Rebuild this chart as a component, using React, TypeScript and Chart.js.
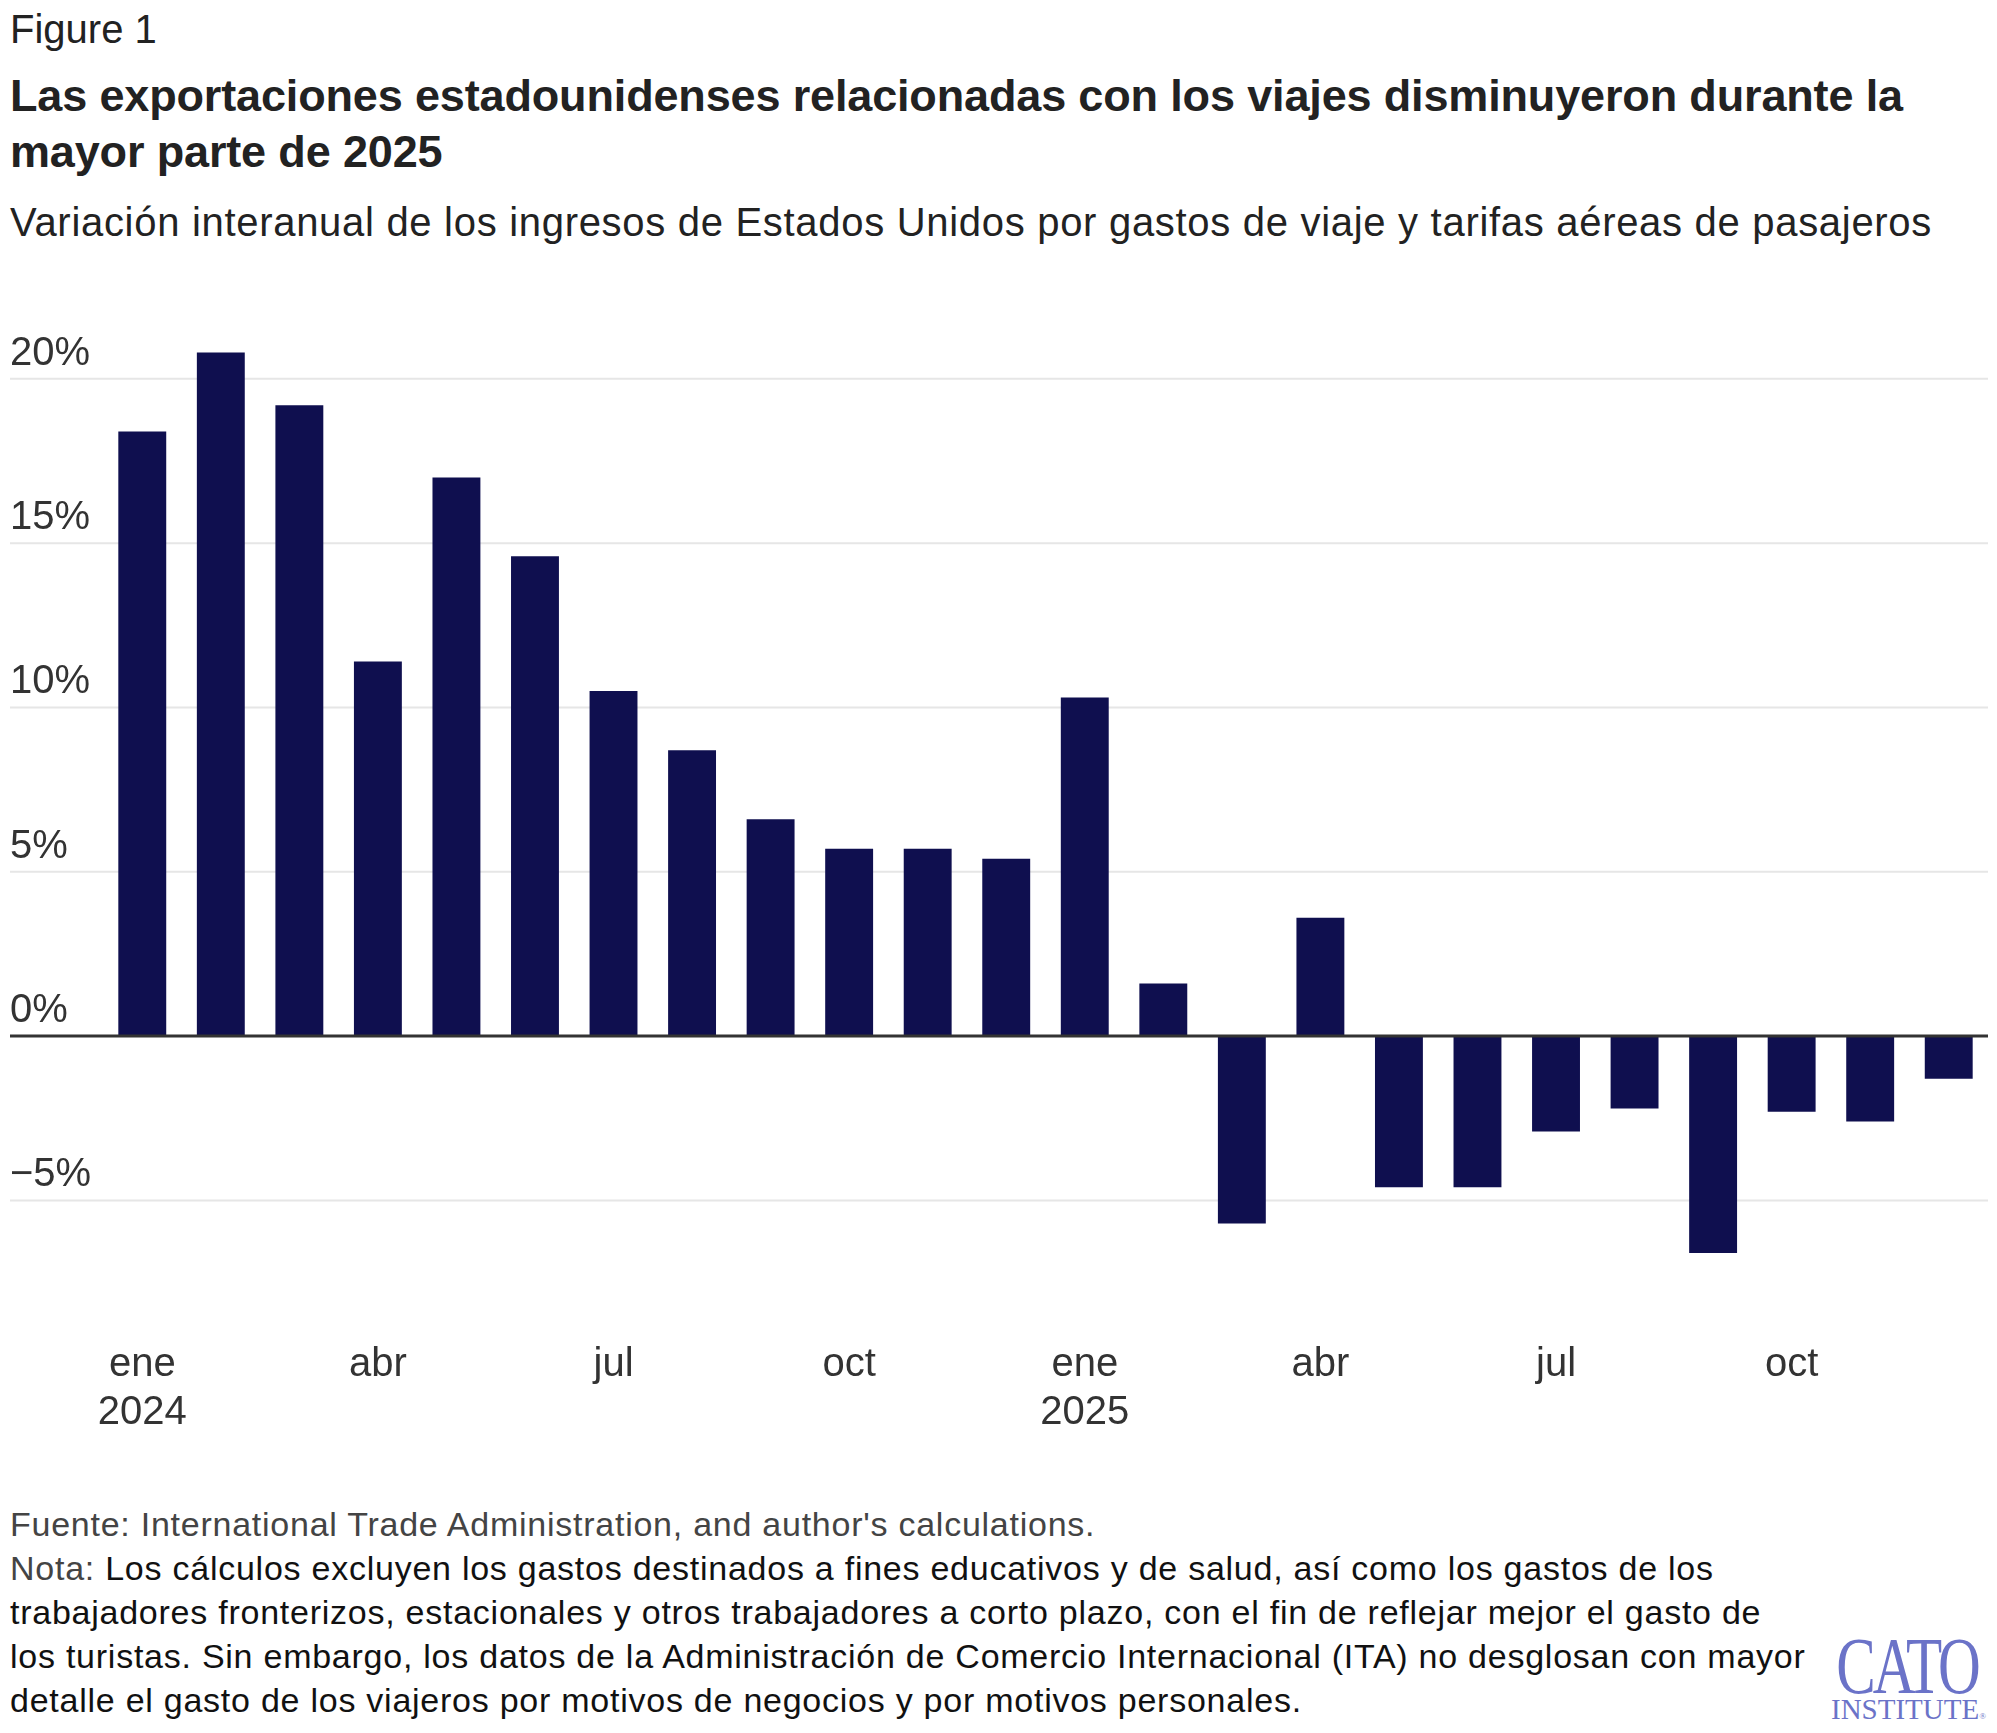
import { useEffect, useRef } from "react"
import { Chart, registerables } from "chart.js"

Chart.register(...registerables)

// months shown on the category axis
const months = ["ene", "feb", "mar", "abr", "may", "jun", "jul", "ago", "sep", "oct", "nov", "dic"]
const years = ["2024", "2025"]
const categories = years.flatMap((y) => months.map((m) => `${m} ${y}`))

// year-over-year change, %
const values2024 = [18.4, 20.8, 19.2, 11.4, 17.0, 14.6, 10.5, 8.7, 6.6, 5.7, 5.7, 5.4]
const values2025 = [10.3, 1.6, -5.7, 3.6, -4.6, -4.6, -2.9, -2.2, -6.6, -2.3, -2.6, -1.3]

const yTicks = [-5, 0, 5, 10, 15, 20]

const FONT = '"Liberation Sans", Arial, sans-serif'
const SERIF = '"Liberation Serif", "DejaVu Serif", serif'
const BAR = "#0f0f4f"

// gridlines + labels that run out to the left edge, like the original
const leftGrid = {
  id: "leftGrid",
  beforeDatasetsDraw(chart: any) {
    const { ctx, chartArea, scales } = chart
    const y = scales.y
    ctx.save()
    yTicks.forEach((v) => {
      const py = y.getPixelForValue(v)
      if (v !== 0) {
        ctx.strokeStyle = "#e6e6e6"
        ctx.lineWidth = 2
        ctx.beginPath()
        ctx.moveTo(10, py)
        ctx.lineTo(chartArea.right, py)
        ctx.stroke()
      }
      ctx.fillStyle = "#333"
      ctx.font = `40px ${FONT}`
      ctx.textAlign = "left"
      ctx.textBaseline = "alphabetic"
      const label = (v < 0 ? "\u2212" + Math.abs(v) : String(v)) + "%"
      ctx.fillText(label, 10, py - 14)
    })
    ctx.restore()
  },
  afterDatasetsDraw(chart: any) {
    const { ctx, chartArea, scales } = chart
    const py = scales.y.getPixelForValue(0)
    ctx.save()
    ctx.strokeStyle = "#333"
    ctx.lineWidth = 3
    ctx.beginPath()
    ctx.moveTo(10, py)
    ctx.lineTo(chartArea.right, py)
    ctx.stroke()
    ctx.restore()
  },
}

function BarChart() {
  const canvasRef = useRef<HTMLCanvasElement>(null)

  useEffect(() => {
    if (!canvasRef.current) return
    const chart = new Chart(canvasRef.current, {
      type: "bar",
      data: {
        labels: categories,
        datasets: [
          {
            data: [...values2024, ...values2025],
            backgroundColor: BAR,
            borderWidth: 0,
            barPercentage: 0.61,
            categoryPercentage: 1,
          },
        ],
      },
      options: {
        animation: false,
        responsive: true,
        maintainAspectRatio: false,
        layout: { padding: { left: 103, right: 9, top: 46, bottom: 15 } },
        plugins: { legend: { display: false }, tooltip: { enabled: false } },
        scales: {
          x: {
            grid: { display: false, drawTicks: false },
            border: { display: false },
            ticks: {
              autoSkip: false,
              maxRotation: 0,
              padding: 42,
              color: "#333",
              font: { family: FONT, size: 40, lineHeight: 1.2 },
              callback: (_v: any, i: number) => {
                if (i % 3 !== 0) return ""
                const m = months[i % 12]
                return m === "ene" ? [m, years[Math.floor(i / 12)]] : m
              },
            },
          },
          y: {
            display: false,
            min: -8,
            max: 21,
          },
        },
      },
      plugins: [leftGrid],
    })
    return () => chart.destroy()
  }, [])

  return (
    <div style={{ position: "absolute", left: 0, top: 300, width: 1997, height: 1194 }}>
      <canvas ref={canvasRef} />
    </div>
  )
}

export default function App() {
  const abs = (top: number, extra: React.CSSProperties = {}): React.CSSProperties => ({
    position: "absolute",
    left: 10,
    top,
    margin: 0,
    fontFamily: FONT,
    color: "#222",
    whiteSpace: "nowrap",
    ...extra,
  })

  return (
    <div style={{ position: "absolute", left: 0, top: 0, width: 1997, height: 1733, background: "#fff", overflow: "hidden" }}>
      <div style={abs(9, { fontSize: 40, lineHeight: 1 })}>Figure 1</div>
      <div style={abs(68, { fontSize: 45, lineHeight: "56px", fontWeight: 700, letterSpacing: -0.15 })}>
        Las exportaciones estadounidenses relacionadas con los viajes disminuyeron durante la
        <br />
        mayor parte de 2025
      </div>
      <div style={abs(202, { fontSize: 40, lineHeight: 1, letterSpacing: 0.7 })}>
        Variación interanual de los ingresos de Estados Unidos por gastos de viaje y tarifas aéreas de pasajeros
      </div>

      <BarChart />

      <div style={abs(1502, { fontSize: 34, lineHeight: "44px", color: "#111", letterSpacing: 0.75 })}>
        <span style={{ color: "#444" }}>Fuente: International Trade Administration, and author's calculations.</span>
        <br />
        <span style={{ color: "#444" }}>Nota:</span> Los cálculos excluyen los gastos destinados a fines educativos y de salud, así como los gastos de los
        <br />
        trabajadores fronterizos, estacionales y otros trabajadores a corto plazo, con el fin de reflejar mejor el gasto de
        <br />
        los turistas. Sin embargo, los datos de la Administración de Comercio Internacional (ITA) no desglosan con mayor
        <br />
        detalle el gasto de los viajeros por motivos de negocios y por motivos personales.
      </div>

      <div
        style={{
          position: "absolute",
          left: 1787,
          top: 1626,
          width: 240,
          fontFamily: SERIF,
          color: "#6b73c8",
          textAlign: "center",
          fontSize: 80,
          lineHeight: 1,
          letterSpacing: -4,
          transform: "scaleX(0.74)",
          transformOrigin: "center",
          whiteSpace: "nowrap",
        }}
      >
        CATO
      </div>
      <div
        style={{
          position: "absolute",
          left: 1831,
          top: 1695,
          fontFamily: SERIF,
          color: "#6b73c8",
          fontSize: 29,
          lineHeight: 1,
          whiteSpace: "nowrap",
        }}
      >
        INSTITUTE<span style={{ fontSize: 9 }}>®</span>
      </div>
    </div>
  )
}
